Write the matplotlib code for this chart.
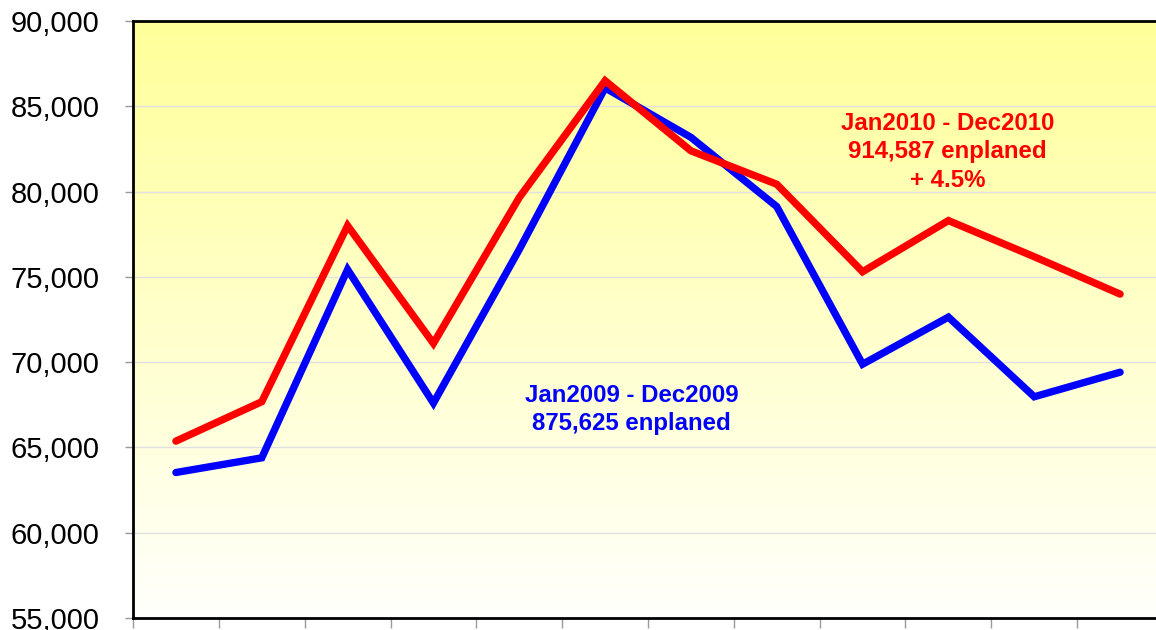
import matplotlib
matplotlib.use("Agg")
import matplotlib.pyplot as plt
import numpy as np
from matplotlib.colors import LinearSegmentedColormap
from matplotlib.ticker import FuncFormatter, FixedLocator

months = ["Jan", "Feb", "Mar", "Apr", "May", "Jun", "Jul", "Aug", "Sep", "Oct", "Nov", "Dec"]
enplaned_2009 = [63530, 64390, 75430, 67600, 76600, 86080, 83180, 79120, 69880, 72640, 67970, 69410]
enplaned_2010 = [65370, 67680, 78000, 71100, 79650, 86500, 82390, 80430, 75300, 78300, 76180, 73990]
y_ticks = [55000, 60000, 65000, 70000, 75000, 80000, 85000, 90000]
label_2009 = "Jan2009 - Dec2009\n875,625 enplaned"
label_2010 = "Jan2010 - Dec2010\n914,587 enplaned\n+ 4.5%"

plt.rcParams['font.family'] = ['Liberation Sans', 'DejaVu Sans']

fig = plt.figure(figsize=(11.56, 6.30), dpi=100)
ax = fig.add_axes([133/1156, 12/630, (1163-133)/1156, (618-21)/630])

x = np.arange(len(months))
ax.set_xlim(-0.5, len(months) - 0.5)
ax.set_ylim(55000, 90000)

# gradient background
cmap = LinearSegmentedColormap.from_list("bg", ["#FFFFFC", "#FFFF99"])
grad = np.linspace(0, 1, 256).reshape(-1, 1)
ax.imshow(grad, extent=[0, 1, 0, 1], transform=ax.transAxes, origin="lower",
          aspect="auto", cmap=cmap, zorder=0)

ax.set_yticks(y_ticks)
ax.yaxis.set_major_formatter(FuncFormatter(lambda v, p: f"{int(v):,}"))
ax.grid(axis="y", color="#E0E0E0", linewidth=1.0, zorder=1)
ax.set_axisbelow(True)

ax.xaxis.set_major_locator(FixedLocator(np.arange(-0.5, len(months) + 0.5, 1.0)))
ax.set_xticklabels([])

ax.plot(x, enplaned_2009, color="#0000FF", linewidth=5.3, solid_capstyle="round",
        solid_joinstyle="miter", zorder=3)
ax.plot(x, enplaned_2010, color="#FF0000", linewidth=5.3, solid_capstyle="round",
        solid_joinstyle="miter", zorder=4)

ax.text(5.31, 67230, label_2009, color="#0000FF", fontsize=17.3, fontweight="bold",
        ha="center", va="center", linespacing=1.3, zorder=5)
ax.text(8.99, 82320, label_2010, color="#FF0000", fontsize=17.3, fontweight="bold",
        ha="center", va="center", linespacing=1.3, zorder=5)

for s in ["left", "bottom", "top", "right"]:
    ax.spines[s].set_color("black")
    ax.spines[s].set_linewidth(2.0)

ax.tick_params(axis="y", direction="out", length=6, width=1, color="#999999",
               labelsize=21, pad=18)
ax.tick_params(axis="x", direction="out", length=7, width=1, color="#999999")

fig.savefig("out.png", dpi=100)
